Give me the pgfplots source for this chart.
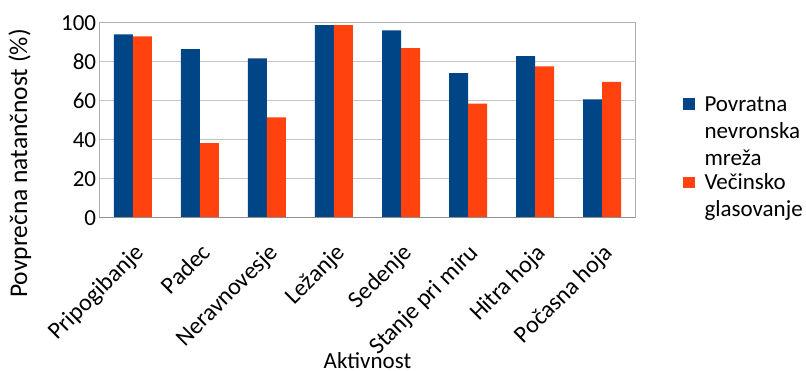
\documentclass[border=0pt]{standalone}
\usepackage{pgfplots}
\pgfplotsset{compat=1.18}
\usepackage{pgfplotstable}
\usepackage{fontspec}
\setmainfont{Carlito}

\definecolor{serA}{HTML}{004586}
\definecolor{serB}{HTML}{FF420E}
\definecolor{gridc}{HTML}{C4C4C4}
\definecolor{framec}{HTML}{B0B0B0}
\definecolor{basec}{HTML}{8F8F8F}

% Average accuracy per activity (%)
\pgfplotstableread{
idx  rnn   vote
0    94.0  93.0
1    86.4  38.3
2    81.7  51.5
3    98.8  98.7
4    96.1  86.9
5    74.1  58.5
6    82.8  77.6
7    60.7  69.6
}\accdata

\newcommand{\chartfont}{\fontsize{23}{27}\selectfont}
\newcommand{\catfont}{\fontsize{24}{28}\selectfont}
\newcommand{\ylabfont}{\fontsize{25.5}{30}\selectfont}

% swatches sit beside the first line of each (multi-line) entry
\pgfplotsset{
  swatch three lines/.style={legend image code/.code={%
    \fill[##1] (0pt,19.9pt) rectangle (12pt,31.6pt);
    \path (0pt,-31.6pt);}},
  swatch two lines/.style={legend image code/.code={%
    \fill[##1] (0pt,6.4pt) rectangle (12pt,18.1pt);
    \path (0pt,-18.1pt);}},
}

\begin{document}
\begin{tikzpicture}
\begin{axis}[
  at={(0pt,0pt)}, anchor=south west,
  scale only axis, width=536.4pt, height=195pt,
  ybar=0pt, bar width=19pt,
  xmin=-0.5, xmax=7.5, ymin=0, ymax=100,
  xtick={0,...,7},
  xticklabels={Pripogibanje,Padec,Neravnovesje,Ležanje,Sedenje,Stanje pri miru,Hitra hoja,Počasna hoja},
  ytick={0,20,...,100},
  major tick length=0pt,
  ymajorgrids, grid style={gridc, line width=1.1pt},
  axis line style={framec, line width=1.3pt},
  font=\chartfont,
  /pgf/number format/assume math mode=true,
  yticklabel style={font=\chartfont, inner sep=0pt, xshift=-3pt},
  % shifts below act in the rotated frame of the label
  xticklabel style={font=\catfont, rotate=45, anchor=north east, inner sep=0pt,
    xshift=-17.2pt, yshift=-17.3pt},
  xlabel={Aktivnost},
  ylabel={Povprečna natančnost (\%)},
  every axis x label/.style={at={(axis description cs:0.5,-0.772)}, anchor=base, font=\chartfont},
  every axis y label/.style={at={(axis description cs:-0.148,0.278)}, rotate=90, anchor=center, font=\ylabfont},
  legend style={at={(axis description cs:1.0869,0.6528)}, anchor=north west,
    draw=none, fill=none, inner sep=0pt, row sep=0pt, column sep=8pt,
    font=\chartfont, cells={anchor=west, align=left, inner sep=0pt}},
]
\addplot[fill=serA, draw=none, swatch three lines]
  table[x=idx, y=rnn] {\accdata};
\addplot[fill=serB, draw=none, swatch two lines]
  table[x=idx, y=vote] {\accdata};
\legend{\strut Povratna\\\strut nevronska\\\strut mreža,
        \strut Večinsko\\\strut glasovanje}
\draw[basec, line width=1.5pt] (rel axis cs:0,0) -- (rel axis cs:1,0);
\end{axis}
\pgfresetboundingbox
\path[use as bounding box] (-99.3pt,-153.3pt) rectangle (706.7pt,217.7pt);
\end{tikzpicture}
\end{document}
